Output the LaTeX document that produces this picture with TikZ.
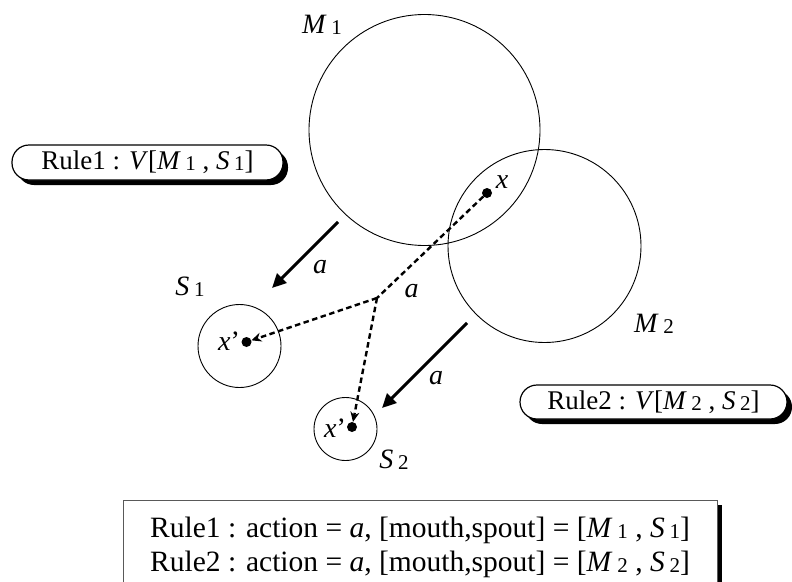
\documentclass[tikz,border=0pt]{standalone}
\usepackage{fontspec}
\setmainfont{Liberation Serif}
\usetikzlibrary{arrows.meta,shadows}
\newcommand\subn[1]{\raisebox{-1pt}{\fontsize{21}{21}\selectfont #1}}
\begin{document}
\begin{tikzpicture}[x=1pt,y=-1pt,
  every node/.style={font=\fontsize{28}{32}\selectfont},
  ring/.style={draw, circle, line width=0.9pt, inner sep=0pt},
  dotn/.style={circle, fill=black, inner sep=0pt, minimum size=10pt},
  lbl/.style={anchor=base, inner sep=0pt},
  dashline/.style={line width=2.4pt, dash pattern=on 5.5pt off 3.5pt},
  dashtip/.style={-{Stealth[length=10pt,width=9pt]}},
  thickarrow/.style={line width=3pt, -{Triangle[length=14pt,width=13pt]}},
  pill/.style={draw, line width=1.2pt, fill=white, rounded corners=17pt,
    inner sep=0pt, font=\fontsize{27}{30}\selectfont,
    drop shadow={shadow xshift=5pt, shadow yshift=-5pt, fill=black, opacity=1}},
  boxtext/.style={anchor=base west, inner sep=0pt, font=\fontsize{29.5}{33}\selectfont},
]
\clip (0,0) rectangle (792,581);
\fill[white] (0,0) rectangle (792,581);

% big circles
\node[ring, minimum size=231pt] (M1) at (424.5,130) {};
\node[ring, minimum size=193pt] (M2) at (544.5,246) {};
\node[ring, minimum size=83pt] (S1) at (239.5,346) {};
\node[ring, minimum size=63pt] (S2) at (345.5,429) {};

% dots
\node[dotn] (x) at (487,193) {};
\node[dotn] (d1) at (246.5,342) {};
\node[dotn] (d2) at (352,427) {};
\coordinate (j) at (377,298);

% labels
\node[lbl] (lM1) at (322,33) {\textit{M}\,\subn{1}};
\node[lbl] (lM2) at (654,332) {\textit{M}\,\subn{2}};
\node[lbl] (lS1) at (190,295) {\textit{S}\,\subn{1}};
\node[lbl] (lS2) at (394,468) {\textit{S}\,\subn{2}};
\node[lbl] (lx) at (502,188) {\textit{x}};
\node[lbl] (lx1) at (229,350) {\textit{x}’};
\node[lbl] (lx2) at (335,437) {\textit{x}’};
\node[lbl] (la1) at (320,273) {\textit{a}};
\node[lbl] (la0) at (411.5,297) {\textit{a}};
\node[lbl] (la2) at (436,384) {\textit{a}};

% dashed connectors
\draw[dashline] (x) -- (j);
\draw[dashline, dashtip] (j) -- (d1);
\draw[dashline, dashtip] (j) -- (d2);

% thick arrows
\coordinate (a1s) at (338,222);
\coordinate (a1e) at (272,288);
\coordinate (a2s) at (467,323);
\coordinate (a2e) at (382,408);
\draw[thickarrow] (a1s) -- (a1e);
\draw[thickarrow] (a2s) -- (a2e);

% rule boxes
\node[pill, minimum width=271pt, minimum height=35pt] (r1) at (147.5,162.5)
  {Rule1 : \textit{V}[\textit{M}\,\subn{1} , \textit{S}\,\subn{1}]};
\node[pill, minimum width=267pt, minimum height=34pt] (r2) at (653.5,402)
  {Rule2 : \textit{V}[\textit{M}\,\subn{2} , \textit{S}\,\subn{2}]};

% bottom box
\node[draw=black!65, line width=1pt, fill=white, minimum width=594pt, minimum height=100pt,
  drop shadow={shadow xshift=5pt, shadow yshift=-5pt, fill=black, opacity=1}] (bb) at (420,550) {};
\node[boxtext] (t1) at (150,537)
  {Rule1 : action = \textit{a}, [mouth,spout] = [\textit{M}\,\subn{1} , \textit{S}\,\subn{1}]};
\node[boxtext] (t2) at (150,571)
  {Rule2 : action = \textit{a}, [mouth,spout] = [\textit{M}\,\subn{2} , \textit{S}\,\subn{2}]};
\end{tikzpicture}
\end{document}
